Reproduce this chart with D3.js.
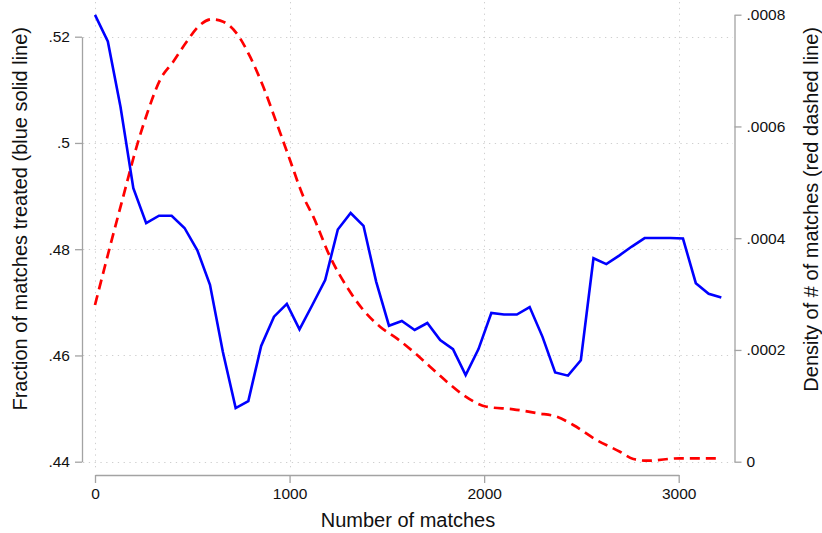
<!DOCTYPE html>
<html>
<head>
<meta charset="utf-8">
<script src="https://cdn.jsdelivr.net/npm/d3@7"></script>
<style>
  html, body { margin: 0; padding: 0; background: #fff; }
  svg { display: block; font-family: "Liberation Sans", Arial, Helvetica, sans-serif; }
</style>
</head>
<body>
<svg id="chart" width="822" height="533"></svg>
<script>
// Fraction of matches treated, by number of matches (left axis)
const matchBins = [0, 66, 131, 197, 263, 329, 394, 460, 526, 591, 657, 723, 788, 854, 920,
  986, 1051, 1117, 1183, 1248, 1314, 1380, 1445, 1511, 1577, 1643, 1708, 1774, 1840, 1905,
  1971, 2037, 2102, 2168, 2234, 2300, 2365, 2431, 2497, 2562, 2628, 2694, 2759, 2825, 2891,
  2957, 3022, 3088, 3154, 3219];
const fractionTreated = [0.5241, 0.5191, 0.5068, 0.4915, 0.4849, 0.4863, 0.4863, 0.4840,
  0.4798, 0.4733, 0.4607, 0.4501, 0.4514, 0.4618, 0.4673, 0.4697, 0.4649, 0.4695, 0.4742,
  0.4837, 0.4868, 0.4844, 0.4739, 0.4656, 0.4665, 0.4648, 0.4661, 0.4629, 0.4612, 0.4563,
  0.4612, 0.4680, 0.4677, 0.4677, 0.4691, 0.4635, 0.4568, 0.4562, 0.4591, 0.4783, 0.4772,
  0.4788, 0.4805, 0.4821, 0.4821, 0.4821, 0.4820, 0.4736, 0.4716, 0.4709];

// Kernel density of the number of matches (right axis)
const densityX = [0, 77, 145, 214, 274, 334, 402, 471, 540, 600, 659, 728, 797, 865, 934,
  1002, 1071, 1122, 1208, 1294, 1379, 1465, 1551, 1636, 1722, 1808, 1893, 2013, 2150, 2278,
  2373, 2458, 2578, 2698, 2767, 2835, 3006, 3221];
const densityY = [0.0002805, 0.0003848, 0.0004743, 0.0005638, 0.0006294, 0.0006831, 0.0007159,
  0.0007517, 0.0007816, 0.0007918, 0.0007875, 0.0007667, 0.0007248, 0.0006711, 0.0006056,
  0.0005400, 0.0004743, 0.0004385, 0.0003669, 0.0003132, 0.0002715, 0.0002416, 0.0002208,
  0.0001969, 0.0001700, 0.0001432, 0.0001194, 0.0000984, 0.0000938, 0.0000866, 0.0000805,
  0.0000657, 0.0000388, 0.0000179, 0.0000048, 0.0000018, 0.0000061, 0.0000061];

// Tick values and labels
const xTicks = [0, 1000, 2000, 3000];
const xTickLabels = ["0", "1000", "2000", "3000"];
const leftTicks = [0.44, 0.46, 0.48, 0.50, 0.52];
const leftTickLabels = [".44", ".46", ".48", ".5", ".52"];
const rightTicks = [0, 0.0002, 0.0004, 0.0006, 0.0008];
const rightTickLabels = ["0", ".0002", ".0004", ".0006", ".0008"];

const xTitle = "Number of matches";
const leftTitle = "Fraction of matches treated (blue solid line)";
const rightTitle = "Density of # of matches (red dashed line)";

const svg = d3.select("#chart");

const x = d3.scaleLinear().domain([0, 3000]).range([95, 678.7]);
const yL = d3.scaleLinear().domain([0.44, 0.52]).range([461.7, 36.7]);
const yR = d3.scaleLinear().domain([0, 0.0008]).range([461.7, 14.7]);

const plot = { left: 83, right: 733, top: 2, bottom: 471 };
const axisColor = "#a3a3a3";
const gridColor = "#cfcfcf";
const textColor = "#111";

// Dotted grid
const grid = svg.append("g").attr("stroke", gridColor).attr("stroke-width", 1)
  .attr("stroke-dasharray", "1.3,4.5").attr("fill", "none");
grid.selectAll("line.h").data(leftTicks).join("line").attr("class", "h")
  .attr("x1", plot.left).attr("x2", plot.right)
  .attr("y1", d => Math.round(yL(d)) + 0.5).attr("y2", d => Math.round(yL(d)) + 0.5);
grid.selectAll("line.v").data(xTicks).join("line").attr("class", "v")
  .attr("y1", plot.top).attr("y2", plot.bottom)
  .attr("x1", d => Math.round(x(d)) + 0.5).attr("x2", d => Math.round(x(d)) + 0.5);

function styleAxis(g) {
  g.select(".domain").attr("stroke", axisColor).attr("stroke-width", 1.3);
  g.selectAll(".tick line").attr("stroke", axisColor).attr("stroke-width", 1.3);
  g.selectAll(".tick text").attr("fill", textColor).style("font-size", "15.5px");
  g.attr("font-family", null).attr("font-size", null);
}

// Left axis
svg.append("g").attr("transform", "translate(82,0)")
  .call(d3.axisLeft(yL).tickValues(leftTicks).tickSize(7).tickSizeOuter(0).tickPadding(5)
    .tickFormat((d, i) => leftTickLabels[i]))
  .call(styleAxis);

// Right axis
svg.append("g").attr("transform", "translate(734.5,0)")
  .call(d3.axisRight(yR).tickValues(rightTicks).tickSize(7).tickSizeOuter(0).tickPadding(5)
    .tickFormat((d, i) => rightTickLabels[i]))
  .call(styleAxis);

// Bottom axis
svg.append("g").attr("transform", "translate(0,475)")
  .call(d3.axisBottom(x).tickValues(xTicks).tickSize(8).tickSizeOuter(0).tickPadding(5)
    .tickFormat((d, i) => xTickLabels[i]))
  .call(styleAxis);

// Density curve (red dashed)
const densityLine = d3.line()
  .x((d, i) => x(densityX[i]))
  .y(d => yR(d))
  .curve(d3.curveMonotoneX);
svg.append("path").datum(densityY)
  .attr("d", densityLine)
  .attr("fill", "none").attr("stroke", "#ff0000").attr("stroke-width", 2.7)
  .attr("stroke-dasharray", "10,6");

// Fraction treated (blue solid)
const fractionLine = d3.line()
  .x((d, i) => x(matchBins[i]))
  .y(d => yL(d));
svg.append("path").datum(fractionTreated)
  .attr("d", fractionLine)
  .attr("fill", "none").attr("stroke", "#0000ff").attr("stroke-width", 2.6)
  .attr("stroke-linejoin", "miter");

// Axis titles
svg.append("text").attr("x", 408).attr("y", 526.5).attr("text-anchor", "middle")
  .attr("fill", textColor).style("font-size", "20px").text(xTitle);
svg.append("text").attr("transform", "translate(27,27) rotate(-90)").attr("text-anchor", "end")
  .attr("fill", textColor).style("font-size", "20px").text(leftTitle);
svg.append("text").attr("transform", "translate(818,27) rotate(-90)").attr("text-anchor", "end")
  .attr("fill", textColor).style("font-size", "20px").text(rightTitle);
</script>
</body>
</html>
